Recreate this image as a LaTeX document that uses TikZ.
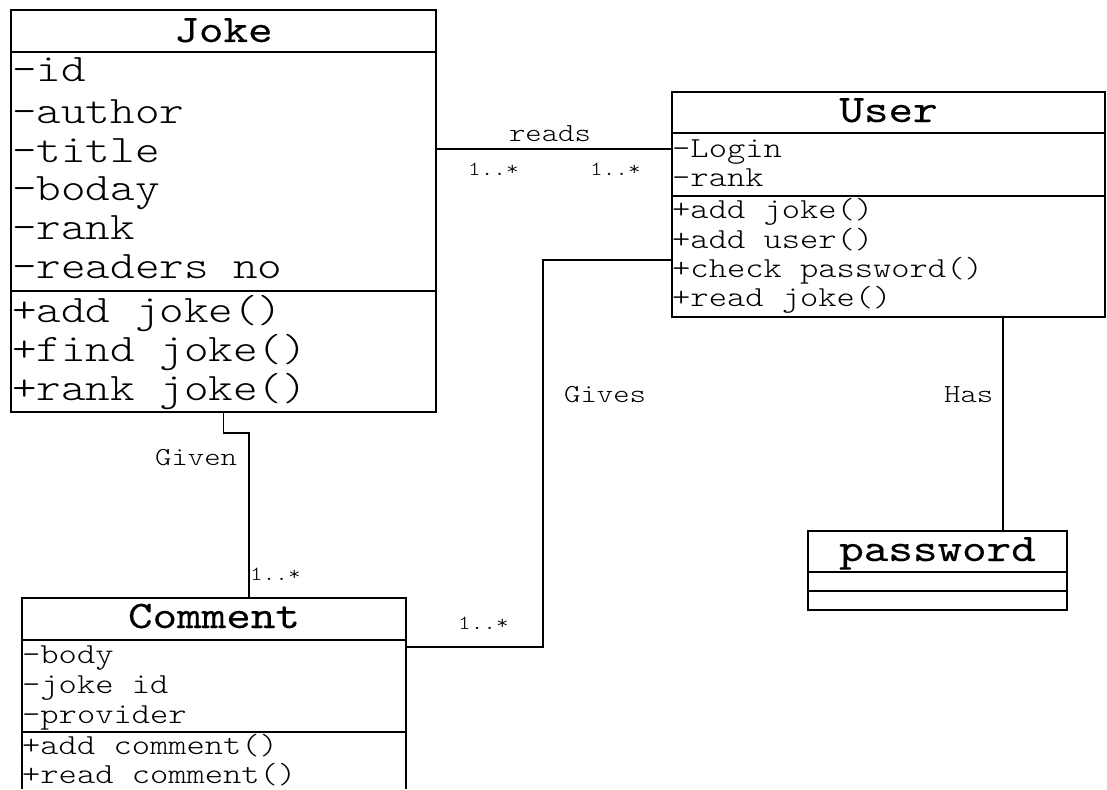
\documentclass[tikz,border=0pt]{standalone}
\usepackage{fontspec}
\newfontfamily\umlfont{lmmonolt10-regular.otf}[FakeStretch=1.2]
\newfontfamily\umltitle{lmmono10-regular.otf}[FakeStretch=1.2,FakeBold=0.2]
\begin{document}
\begin{tikzpicture}[x=1pt,y=-1pt,
  box/.style={draw, line width=1.2pt, rectangle, inner sep=0pt, outer sep=0pt, anchor=north west},
  sep/.style={line width=1.2pt},
  conn/.style={line width=1.2pt},
  title/.style={inner sep=0pt, anchor=base, font=\umltitle\fontsize{39}{39}\selectfont},
  bigrow/.style={inner sep=0pt, anchor=base west, font=\umlfont\fontsize{39}{39}\selectfont},
  row/.style={inner sep=0pt, anchor=base west, font=\umlfont\fontsize{29}{29}\selectfont},
  lbl/.style={inner sep=0pt, anchor=base west, font=\umlfont\fontsize{26}{26}\selectfont},
  mult/.style={inner sep=0pt, anchor=base west, font=\umlfont\fontsize{20}{20}\selectfont}]
\useasboundingbox (0,0) rectangle (1107,789);

% ---------- Joke ----------
\node[box, minimum width=425pt, minimum height=402pt] (joke) at (11,10) {};
\draw[sep] (joke.west |- 0,52) -- (joke.east |- 0,52);
\draw[sep] (joke.west |- 0,291) -- (joke.east |- 0,291);
\node[title] (jokeT) at (223.5,42) {Joke};
\node[bigrow] (j1) at (12,82) {-id};
\node[bigrow] (j2) at (12,123) {-author};
\node[bigrow] (j3) at (12,162) {-title};
\node[bigrow] (j4) at (12,200) {-boday};
\node[bigrow] (j5) at (12,239) {-rank};
\node[bigrow] (j6) at (12,278) {-readers no};
\node[bigrow] (j7) at (12,322) {+add joke()};
\node[bigrow] (j8) at (12,361) {+find joke()};
\node[bigrow] (j9) at (12,400) {+rank joke()};

% ---------- User ----------
\node[box, minimum width=433pt, minimum height=225pt] (user) at (672,92) {};
\draw[sep] (user.west |- 0,133) -- (user.east |- 0,133);
\draw[sep] (user.west |- 0,196) -- (user.east |- 0,196);
\node[title] (userT) at (888.5,122) {User};
\node[row] (u1) at (672,157) {-Login};
\node[row] (u2) at (672,186) {-rank};
\node[row] (u3) at (672,218) {+add joke()};
\node[row] (u4) at (672,248) {+add user()};
\node[row] (u5) at (672,277) {+check password()};
\node[row] (u6) at (672,306) {+read joke()};

% ---------- Comment (runs past the lower edge) ----------
\node[inner sep=0pt, outer sep=0pt, anchor=north west, minimum width=384pt, minimum height=191pt] (comment) at (22,598) {};
\draw[sep] (comment.south west) -- (comment.north west) -- (comment.north east) -- (comment.south east);
\draw[sep] (comment.west |- 0,640) -- (comment.east |- 0,640);
\draw[sep] (comment.west |- 0,732) -- (comment.east |- 0,732);
\node[title] (commentT) at (214,628) {Comment};
\node[row] (c1) at (22,663) {-body};
\node[row] (c2) at (22,693) {-joke id};
\node[row] (c3) at (22,723) {-provider};
\node[row] (c4) at (22,754) {+add comment()};
\node[row] (c5) at (22,783) {+read comment()};

% ---------- password ----------
\node[box, minimum width=259pt, minimum height=79pt] (password) at (808,531) {};
\draw[sep] (password.west |- 0,572) -- (password.east |- 0,572);
\draw[sep] (password.west |- 0,591) -- (password.east |- 0,591);
\node[title] (passwordT) at (937.5,561) {password};

% ---------- associations ----------
\coordinate (r1) at (0,149);
\draw[conn] (joke.east |- r1) -- (user.west |- r1);
\node[lbl, anchor=base] (reads) at (550,141) {reads};
\node[mult] (m1) at (468,175) {1..*};
\node[mult] (m2) at (590,175) {1..*};

\coordinate (g1) at (223.6,433);
\coordinate (g2) at (249,433);
\draw[conn] (joke.south -| g1) -- (g1) -- (g2) -- (comment.north -| g2);
\node[lbl] (given) at (155,465) {Given};
\node[mult] (m3) at (250,580) {1..*};

\coordinate (v1) at (543,647);
\coordinate (v2) at (543,260);
\draw[conn] (comment.east |- v1) -- (v1) -- (v2) -- (user.west |- v2);
\node[lbl] (gives) at (564,402) {Gives};
\node[mult] (m4) at (458,629) {1..*};

\coordinate (h1) at (1003,0);
\draw[conn] (user.south -| h1) -- (password.north -| h1);
\node[lbl] (has) at (944,402) {Has};
\end{tikzpicture}
\end{document}
